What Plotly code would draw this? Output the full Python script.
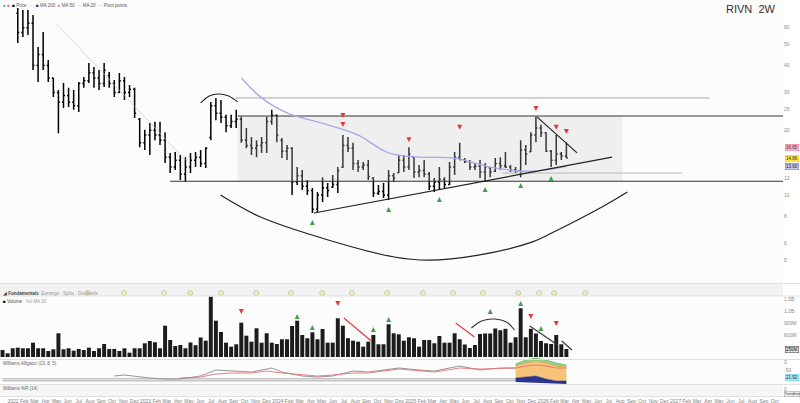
import math
import pandas as pd
import plotly.graph_objects as go

W, H = 800, 403

# ---------------- data ----------------
FIRST_BAR = "2021-12-03"   # bar index -3 (the first three bars sit above the visible price range)
BAR_DAYS = 14

opens = [120, 110, 100,
         70, 57, 60, 63, 40, 45, 40, 35, 30, 27,
         29, 27, 26, 33, 34, 37, 35, 33, 36, 33,
         30, 34, 30, 31, 22.5, 17.5, 19, 20, 19, 18,
         15, 13.5, 14.5, 12.5, 13.5, 14.5, 15, 14, 18.5, 26,
         24, 23, 21, 22, 22.5, 18, 17, 16.5, 17, 17.5,
         22, 23.5, 18, 16, 16.5, 11.5, 12.3, 11, 10.5, 8.6,
         10, 10.8, 10.9, 11.2, 13.5, 17, 16.5, 14, 13.5, 13.8,
         12, 10.2, 10.4, 10.0, 12.3, 12.7, 14.5, 13.5, 15, 12.8,
         13, 12.5, 11, 11.5, 11.8, 11.2, 13.5, 15, 14.6, 14.3,
         13.5, 13.6, 12.8, 13.4, 12.9, 14, 13.7, 13.5, 13.1, 13,
         16.2, 15.9, 19, 20.5, 19.5, 16, 14.5, 15.5, 15.2]
highs = [130, 118, 112,
         74.1, 72.5, 72.5, 68.7, 48.8, 57.3, 42.5, 35.0, 30.8, 33.2,
         31.5, 30.8, 33.5, 35.4, 41.1, 39.4, 38.1, 41.1, 37.3, 34.3,
         36.9, 35.4, 32.5, 31.5, 22.8, 20.1, 21.6, 21.9, 21.9, 19.6,
         15.7, 15.85, 15.35, 15.0, 15.7, 15.85, 16.2, 16.7, 27.1, 28.3,
         27.7, 23.6, 23.6, 24.9, 23.1, 20.5, 18.6, 18.0, 18.6, 23.1,
         24.9, 23.6, 18.4, 17.1, 16.7, 13.5, 13.07, 11.74, 10.78, 10.33,
         12.1, 11.37, 12.4, 13.5, 19.0, 18.6, 17.5, 14.55, 14.24, 14.55,
         12.1, 11.13, 11.37, 13.07, 12.66, 15.35, 15.35, 16.7, 15.0, 13.8,
         14.55, 12.8, 12.0, 13.5, 12.1, 14.24, 15.85, 17.5, 14.86, 14.55,
         14.1, 14.55, 14.1, 13.5, 14.86, 15.0, 15.85, 13.8, 13.5, 18.0,
         17.1, 19.6, 23.1, 21.2, 19.6, 16.2, 19.0, 15.85, 17.6]
lows = [100, 95, 88,
        50.9, 54.3, 55.5, 38.1, 33.5, 38.1, 33.5, 28.6, 19.4, 25.4,
        25.7, 24.9, 24.3, 31.5, 33.2, 31.5, 30.8, 31.8, 31.5, 28.6,
        29.8, 27.7, 28.6, 22.8, 16.7, 16.2, 15.35, 18.0, 17.1, 14.1,
        12.66, 13.07, 11.74, 11.5, 12.66, 13.5, 13.5, 13.35, 18.0, 22.3,
        21.6, 19.6, 20.5, 20.5, 17.5, 16.5, 15.35, 15.0, 15.7, 15.7,
        21.2, 17.6, 14.86, 14.55, 10.0, 11.13, 10.55, 10.0, 8.25, 8.34,
        9.28, 9.79, 10.78, 10.22, 13.35, 15.85, 13.07, 12.8, 13.07, 11.74,
        9.79, 10.0, 9.68, 9.48, 11.5, 12.66, 12.8, 13.07, 12.0, 12.1,
        12.1, 10.55, 10.33, 10.55, 10.78, 11.13, 12.4, 14.55, 14.1, 13.07,
        13.07, 12.0, 11.5, 12.1, 12.8, 13.07, 13.35, 12.8, 12.66, 12.1,
        13.8, 15.85, 17.6, 18.6, 15.85, 13.5, 13.8, 14.55, 14.86]
closes = [110, 100, 95,
          57, 60, 63, 40, 45, 40, 35, 30, 27, 29,
          27, 26, 33, 34, 37, 35, 33, 38, 33, 30,
          34, 30, 31, 24, 17.5, 19, 20, 19, 18, 15,
          13.5, 14.5, 12.5, 13.5, 14.5, 15, 14, 16.5, 26, 24,
          23, 21, 22, 22.5, 18, 17, 16.5, 17, 17.5, 22,
          23.5, 19, 16, 16.5, 11.5, 12.3, 11, 10.5, 8.6, 10,
          10.8, 10.5, 11.2, 13, 17, 16.5, 14, 13.5, 13.8, 12.2,
          10.2, 10.4, 10.0, 12.3, 12.0, 14.5, 13.5, 15.5, 12.8, 13.0,
          12.5, 11, 11.5, 11.8, 11.2, 13.5, 15, 14.6, 14.3, 13.5,
          13.6, 12.8, 13.5, 12.8, 14, 13.7, 13.5, 13.1, 13.0, 16.2,
          15.5, 19, 20.5, 19.5, 16, 14.5, 15.5, 15.2, 14.86]
volume_m = [225, 143, 268,
            283, 268, 268, 408, 268, 268, 200, 243, 643, 243,
            268, 208, 250, 225, 283, 200, 268, 375, 250, 250,
            200, 268, 158, 268, 268, 393, 450, 418, 268, 833,
            475, 325, 350, 268, 413, 345, 538, 458, 1558, 958,
            675, 408, 308, 368, 908, 583, 433, 768, 408, 643,
            408, 375, 493, 493, 825, 958, 600, 518, 668, 493,
            750, 408, 408, 1018, 833, 520, 458, 433, 308, 433,
            600, 368, 368, 868, 643, 618, 458, 543, 518, 308,
            475, 475, 393, 575, 408, 408, 643, 493, 363, 275,
            350, 625, 638, 638, 763, 720, 755, 408, 543, 1268,
            543, 755, 638, 450, 393, 375, 600, 368, 250]

# moving average (blue), read at selected bars (bar index, price)
ma_idx = [44, 48, 53, 61, 67, 73, 79, 86, 93, 101, 108]
ma_val = [35.0, 28.3, 24.1, 21.2, 19.0, 15.7, 15.0, 14.86, 13.5, 12.9, 13.6]

# drawings on the price pane (bar index, price)
arc_idx, arc_val = [36.0, 37.7, 39.5, 41.5, 43.3], [26.8, 28.9, 29.5, 28.9, 27.1]
bowl_idx = [39.9, 47.8, 61.1, 74.1, 80.8, 90.7, 101.2, 105.1, 115.0, 120.0]
bowl_val = [10.0, 7.90, 6.18, 5.15, 4.98, 5.26, 6.04, 6.66, 8.80, 10.33]
support_idx, support_val = [58.3, 117.0], [8.25, 15.0]
down_idx, down_val = [102.2, 110.1], [23.1, 15.7]
diag_idx, diag_val = [7.5, 33.0], [63.0, 14.55]
range_top, range_bot = 23.3, 11.6
range_top_from, range_bot_from, chart_end_idx = 43.3, 30.0, 151.2
box_idx = [43.3, 119.0]
light_top_val, light_top_idx = 28.3, [42.9, 136.2]
light_mid_val, light_mid_idx = 12.66, [95.3, 130.8]

sell_idx = [64, 64, 77, 87, 102, 106, 108]
sell_val = [22.8, 20.7, 17.6, 20.1, 24.6, 20.1, 19.2]
buy_idx = [58, 73, 83, 92, 99, 105]
buy_val = [7.65, 8.80, 9.79, 10.9, 11.37, 12.26]

# volume pane drawings / signals (bar index, volume M)
vred1_idx, vred1_val = [64.2, 69.6], [1025, 450]
vred2_idx, vred2_val = [86.2, 89.9], [900, 550]
varc_idx, varc_val = [89.3, 91.3, 93.9, 96.2, 97.8], [775, 950, 1000, 925, 725]
vdk1_idx, vdk1_val = [100.8, 106.3], [825, 350]
vdk2_idx, vdk2_val = [107.1, 109.1], [450, 225]
vsell_idx, vsell_val = [44, 63, 101, 106], [1125, 1325, 1000, 825]
vbuy_idx, vbuy_val = [55, 58, 70, 73, 93, 99, 103], [1125, 850, 800, 1050, 1250, 1450, 825]

earnings_dates = ["2022-07-26", "2022-11-03", "2023-02-21", "2023-05-04", "2023-07-28",
                  "2023-11-02", "2024-02-06", "2024-05-02", "2024-07-23", "2024-10-28",
                  "2025-02-04", "2025-04-28", "2025-07-19", "2025-10-24", "2025-12-21",
                  "2026-01-31", "2026-04-27"]

# oscillator pane (bar index, value)
osc_gray_idx = [19, 21, 26, 29, 32, 36, 39, 42, 46, 50, 52, 56, 59, 62, 66, 69, 75, 79, 82, 87, 91, 95, 98]
osc_gray_val = [8, 9, 6, 5, 5, 8, 14, 13, 12, 16, 12, 8, 7, 8, 13, 12, 16, 14, 13, 18, 14, 16, 16]
osc_red_idx = [32, 36, 39, 42, 46, 49, 52, 56, 59, 62, 66, 69, 75, 82, 87, 91, 98, 100, 102, 104, 106, 108]
osc_red_val = [6, 7, 10, 11, 11, 13, 11, 9, 8, 9, 11, 11, 15, 12, 16, 15, 16, 18, 19, 18, 16, 16]
fill_idx = [98, 100, 102, 104, 106, 108]
green_top = [20, 24, 26, 24, 21, 19]
orange_top = [18, 21, 23, 21, 18, 17]
navy_top = [6, 7, 8, 5, 3, 3]
navy_bot = [2, 1.5, 1, 0.5, 0, 0]
osc_base = [5.3, 3.3]

price_ticks = [5, 6, 8, 10, 12, 20, 25, 30, 40, 50, 60]
vol_ticks = [600, 900, 1200, 1500]
vol_tick_text = ["600M", "900M", "1.2B", "1.5B"]

# ---------------- helpers ----------------
t0 = pd.Timestamp(FIRST_BAR)
dates = pd.date_range(FIRST_BAR, periods=len(closes), freq=f"{BAR_DAYS}D")


def at(i):
    return t0 + pd.Timedelta(days=BAR_DAYS * (i + 3))


def ats(lst):
    return [at(i) for i in lst]


def px(x):
    return x / W


def py(y):
    return 1 - y / H


FONT = "Liberation Sans, Arial, sans-serif"
fig = go.Figure()


def line(xs, ys, color, width=1.2, yaxis="y", shape="linear", dash=None):
    fig.add_trace(go.Scatter(x=xs, y=ys, mode="lines", yaxis=yaxis,
                             line=dict(color=color, width=width, shape=shape, dash=dash),
                             hoverinfo="skip", showlegend=False))


# price pane: range box
fig.add_trace(go.Scatter(x=[at(box_idx[0]), at(box_idx[1]), at(box_idx[1]), at(box_idx[0]), at(box_idx[0])],
                         y=[range_bot, range_bot, range_top, range_top, range_bot],
                         fill="toself", fillcolor="rgba(205,205,205,0.27)", mode="lines",
                         line=dict(width=0), hoverinfo="skip", showlegend=False))
line(ats(diag_idx), diag_val, "rgba(195,195,195,0.6)", 1)
line(ats(light_top_idx), [light_top_val] * 2, "#cccccc", 1.6)
line(ats(light_mid_idx), [light_mid_val] * 2, "#b8b8b8", 1)
line(ats([range_top_from, chart_end_idx]), [range_top] * 2, "#333333", 1.1)
line(ats([range_bot_from, chart_end_idx]), [range_bot] * 2, "#333333", 1.1)
line(ats(ma_idx), ma_val, "#a3abe6", 1.3, shape="spline")
line(ats(arc_idx), arc_val, "#222222", 1.1, shape="spline")
line(ats(bowl_idx), bowl_val, "#222222", 1.2, shape="spline")
line(ats(support_idx), support_val, "#222222", 1.2)
line(ats(down_idx), down_val, "#222222", 1.2)

fig.add_trace(go.Ohlc(x=dates, open=opens, high=highs, low=lows, close=closes,
                      increasing=dict(line=dict(color="#000000", width=1.5)),
                      decreasing=dict(line=dict(color="#000000", width=1.5)),
                      tickwidth=0.3, hoverinfo="skip", showlegend=False))
fig.add_trace(go.Scatter(x=ats(sell_idx), y=sell_val, mode="markers",
                         marker=dict(symbol="arrow-down", size=5, color="#e53935"),
                         hoverinfo="skip", showlegend=False))
fig.add_trace(go.Scatter(x=ats(buy_idx), y=buy_val, mode="markers",
                         marker=dict(symbol="arrow-up", size=5, color="#43a047"),
                         hoverinfo="skip", showlegend=False))

# volume pane
fig.add_trace(go.Bar(x=dates, y=volume_m, yaxis="y3", marker=dict(color="#1c1c1c", line=dict(width=0)),
                     hoverinfo="skip", showlegend=False))
fig.add_trace(go.Scatter(x=pd.to_datetime(earnings_dates), y=[1650] * len(earnings_dates), yaxis="y3",
                         mode="markers", marker=dict(symbol="circle", size=5, color="#ecebcf",
                                                     line=dict(color="#cfcf9c", width=1)),
                         hoverinfo="skip", showlegend=False))
line(ats(vred1_idx), vred1_val, "#e53935", 1.1, yaxis="y3")
line(ats(vred2_idx), vred2_val, "#e53935", 1.1, yaxis="y3")
line(ats(varc_idx), varc_val, "#333333", 1.1, yaxis="y3", shape="spline")
line(ats(vdk1_idx), vdk1_val, "#333333", 1.1, yaxis="y3")
line(ats(vdk2_idx), vdk2_val, "#333333", 1.1, yaxis="y3")
fig.add_trace(go.Scatter(x=ats(vsell_idx), y=vsell_val, yaxis="y3", mode="markers",
                         marker=dict(symbol="arrow-down", size=5, color="#e53935"),
                         hoverinfo="skip", showlegend=False))
fig.add_trace(go.Scatter(x=ats(vbuy_idx), y=vbuy_val, yaxis="y3", mode="markers",
                         marker=dict(symbol="arrow-up", size=5, color="#43a047"),
                         hoverinfo="skip", showlegend=False))

# oscillator pane
for v in osc_base:
    line(ats([-3, 98]), [v, v], "#c4c4c4", 1.5, yaxis="y4")
fx = ats(fill_idx)
fig.add_trace(go.Scatter(x=fx, y=navy_bot, yaxis="y4", mode="lines", line=dict(width=0),
                         hoverinfo="skip", showlegend=False))
fig.add_trace(go.Scatter(x=fx, y=navy_top, yaxis="y4", mode="lines", line=dict(width=0.5, color="#1a237e"),
                         fill="tonexty", fillcolor="#283593", hoverinfo="skip", showlegend=False))
fig.add_trace(go.Scatter(x=fx, y=orange_top, yaxis="y4", mode="lines", line=dict(width=0.8, color="#f0a040"),
                         fill="tonexty", fillcolor="#f7c37a", hoverinfo="skip", showlegend=False))
fig.add_trace(go.Scatter(x=fx, y=green_top, yaxis="y4", mode="lines", line=dict(width=0.8, color="#66bb6a"),
                         fill="tonexty", fillcolor="#8fd18f", hoverinfo="skip", showlegend=False))
line(ats(osc_gray_idx), osc_gray_val, "#8a8a8a", 0.9, yaxis="y4")
line(ats(osc_red_idx), osc_red_val, "#e57373", 0.9, yaxis="y4")
# empty bottom pane (keeps its axis alive)
fig.add_trace(go.Scatter(x=[dates[0]], y=[0.5], yaxis="y5", mode="markers",
                         marker=dict(size=1, opacity=0), hoverinfo="skip", showlegend=False))

# ---------------- layout ----------------
months = pd.date_range("2021-12-01", "2027-10-01", freq="MS")
month_text = [str(d.year) if d.month == 1 else d.strftime("%b") for d in months]

XD = [0, 783 / W]
common_y = dict(showgrid=False, zeroline=False, ticks="", showline=False, fixedrange=True,
                side="right", anchor="x", tickfont=dict(size=5, color="#8a8a8a", family=FONT))

fig.update_layout(
    width=W, height=H, margin=dict(l=0, r=0, t=0, b=0),
    paper_bgcolor="#ffffff", plot_bgcolor="#fcfcfc", bargap=0.22,
    font=dict(family=FONT),
    xaxis=dict(domain=XD, type="date", range=["2021-11-26", "2027-10-24"],
               anchor="free", position=py(396.5),
               tickvals=months, ticktext=month_text, tickangle=0,
               tickfont=dict(size=5, color="#808080", family=FONT),
               showgrid=False, zeroline=False, ticks="", showline=False,
               rangeslider=dict(visible=False), fixedrange=True),
    yaxis=dict(domain=[py(283), 1], type="log", range=[math.log10(3.9), math.log10(80.7)],
               tickvals=price_ticks, ticktext=[str(v) for v in price_ticks], **common_y),
    yaxis3=dict(domain=[py(359), py(288)], range=[0, 1775], tickvals=vol_ticks,
                ticktext=vol_tick_text, **common_y),
    yaxis4=dict(domain=[py(384), py(357)], range=[0, 27], tickvals=[14, 22], ticktext=["-50", "0"],
                **common_y),
    yaxis5=dict(domain=[py(396), py(385)], range=[0, 1], tickvals=[0.6], ticktext=["0"], **common_y),
)

shapes = []
shapes.append(dict(type="rect", xref="paper", yref="paper", x0=0, x1=px(783), y0=py(296), y1=py(284),
                   fillcolor="#f2f2f2", line=dict(width=0), layer="below"))
shapes.append(dict(type="rect", xref="paper", yref="paper", x0=0, x1=px(783), y0=py(396), y1=py(385),
                   fillcolor="#f6f6f6", line=dict(width=0), layer="below"))
for yy in [283.5, 296, 359.5, 384.5, 396.5]:
    shapes.append(dict(type="line", xref="paper", yref="paper", x0=0, x1=1, y0=py(yy), y1=py(yy),
                       line=dict(color="#e0e0e0", width=1)))
fig.update_layout(shapes=shapes)

ann = []
ann.append(dict(text="RIVN  2W", x=px(778), y=py(9), xref="paper", yref="paper", xanchor="right",
                yanchor="middle", showarrow=False, font=dict(size=11, color="#333333", family=FONT)))
legend_txt = ("<span style='color:#43a047'>●</span> <span style='color:#e53935'>●</span>  "
              "<span style='color:#000'>■</span> Price  ···  "
              "<span style='color:#1a237e'>■</span> MA 200  "
              "<span style='color:#f48fb1'>■</span> MA 50  "
              "<span style='color:#bbbbbb'>—</span> MA 20  "
              "<span style='color:#bbbbbb'>—</span> Pivot points")
ann.append(dict(text=legend_txt, x=px(1), y=py(5), xref="paper", yref="paper", xanchor="left",
                yanchor="middle", showarrow=False, font=dict(size=4.5, color="#555555", family=FONT)))
ann.append(dict(text="◢ <b>Fundamentals</b>  <span style='color:#999'>Earnings · Splits · Dividends</span>",
                x=px(1), y=py(293), xref="paper", yref="paper", xanchor="left", yanchor="middle",
                showarrow=False, font=dict(size=4.5, color="#444", family=FONT)))
ann.append(dict(text="<span style='color:#000'>■</span> Volume   <span style='color:#999'>Vol MA 20</span>",
                x=px(1), y=py(301), xref="paper", yref="paper", xanchor="left", yanchor="middle",
                showarrow=False, font=dict(size=4.5, color="#444", family=FONT)))
ann.append(dict(text="Williams Alligator (13, 8, 5)", x=px(1), y=py(363), xref="paper", yref="paper",
                xanchor="left", yanchor="middle", showarrow=False, font=dict(size=4.5, color="#666", family=FONT)))
ann.append(dict(text="Williams %R (14)", x=px(1), y=py(388), xref="paper", yref="paper",
                xanchor="left", yanchor="middle", showarrow=False, font=dict(size=4.5, color="#666", family=FONT)))

for val, bg, bd in [(16.65, "#f8bbd0", "#f06292"), (closes[-1], "#ffeb3b", "#fbc02d"), (13.6, "#c5cae9", "#5c6bc0")]:
    ann.append(dict(text=f"{val:.2f}", x=px(785), y=math.log10(val), xref="paper", yref="y",
                    xanchor="left", yanchor="middle", showarrow=False, bgcolor=bg, bordercolor=bd,
                    borderwidth=0.5, borderpad=0.5, font=dict(size=4.5, color="#222", family=FONT)))
ann.append(dict(text=f"{volume_m[-1]}M", x=px(785), y=volume_m[-1], xref="paper", yref="y3",
                xanchor="left", yanchor="middle", showarrow=False, bgcolor="#e0e0e0", bordercolor="#333",
                borderwidth=0.5, borderpad=0.5, font=dict(size=4.5, color="#111", family=FONT)))
ann.append(dict(text="21.92", x=px(785), y=7, xref="paper", yref="y4",
                xanchor="left", yanchor="middle", showarrow=False, bgcolor="#b2ebf2", bordercolor="#4dd0e1",
                borderwidth=0.5, borderpad=0.5, font=dict(size=4.5, color="#222", family=FONT)))
ann.append(dict(text="Trendline", x=px(784), y=py(394), xref="paper", yref="paper",
                xanchor="left", yanchor="middle", showarrow=False, bgcolor="#f0f0f0", bordercolor="#999",
                borderwidth=0.5, borderpad=0.3, font=dict(size=3.6, color="#333", family=FONT)))
fig.update_layout(annotations=ann)

fig.write_html("out.html", config={"displayModeBar": False, "staticPlot": True},
               post_script="document.body.style.margin='0';")
